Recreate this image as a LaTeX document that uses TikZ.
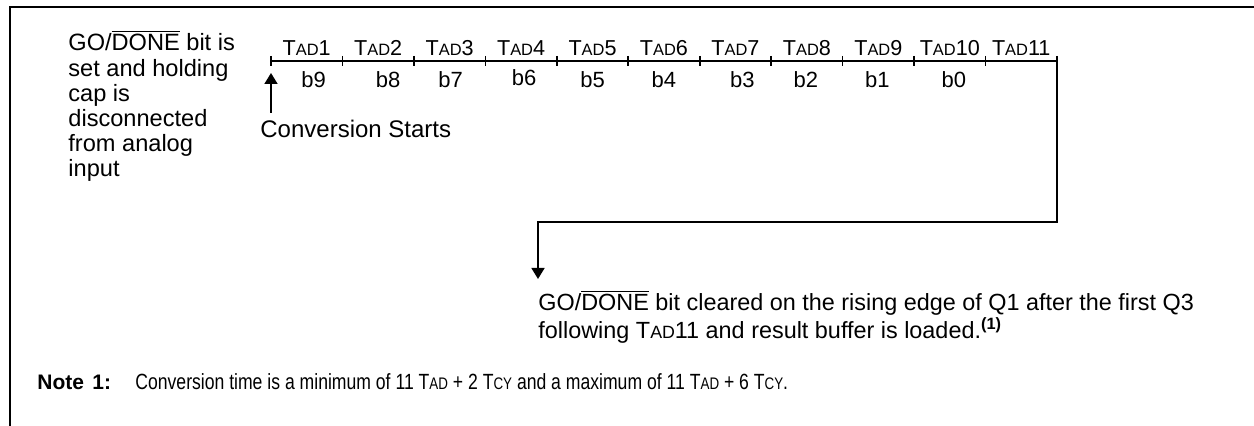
\documentclass[tikz,border=0pt]{standalone}
\usepackage{fontspec}
\setmainfont{Liberation Sans}
\newfontfamily\narrowfont{Liberation Sans}[FakeStretch=0.8]
\usetikzlibrary{positioning}
\usetikzlibrary{arrows.meta}
\newcommand{\ovl}[1]{$\overline{\mbox{#1}}$}
\newcommand{\sml}[1]{{\fontsize{0.76\fontdimen6\font}{1em}\selectfont #1}}
\tikzset{x=0.5pt, y=-0.5pt,
frame/.style={line width=1pt},
axis/.style={line width=0.8pt},
tickmark/.style={line width=0.8pt},
tlabel/.style={anchor=base, inner sep=0pt, font=\fontsize{10.8}{12}\selectfont},
blabel/.style={anchor=base, inner sep=0pt, font=\fontsize{11}{12}\selectfont},
note/.style={anchor=north west, inner sep=0pt, align=left, font=\fontsize{11.8}{12.6}\selectfont},
flow/.style={line width=0.8pt, -{Triangle[length=5.5pt,width=6.5pt]}}
}
\begin{document}
\begin{tikzpicture}
\useasboundingbox (0,0) rectangle (1254,426);
% frame
\draw[frame] (10,426) -- (10,7) -- (1254,7);
% left note
\node[note] (setnote) at (68,30) {GO/\ovl{DONE} bit is\\set and holding\\cap is\\disconnected\\from analog\\input};
% time line
\foreach \i in {0,...,11} \coordinate (t\i) at ({271+71.45*\i},61);
\draw[axis] (t0) -- (t11);
\foreach \i in {0,...,11} \draw[tickmark] ([yshift=2.5pt]t\i) -- ([yshift=-2.5pt]t\i);
\foreach \n in {1,...,11}
  \node[tlabel] (tad\n) at ({271+71.45*(\n-0.5)},56) {T\sml{AD}\n};
\foreach \n/\b/\dx/\dy in {1/9/7/0, 2/8/10/0, 3/7/1/0, 4/6/3/-2, 5/5/0/0, 6/4/0/0, 7/3/7/0, 8/2/-1/0, 9/1/-1/0, 10/0/4/0}
  \node[blabel] (b\b) at ({271+71.45*(\n-0.5)+\dx},{88+\dy}) {b\b};
% start of conversion
\coordinate (start) at (271,113);
\draw[flow] (start) -- ([yshift=-6pt]t0);
\node[anchor=base west, inner sep=0pt, font=\fontsize{12}{14}\selectfont] (convstart) at (260,138) {Conversion Starts};
% end of conversion
\node[anchor=north west, inner sep=0pt, align=left, font=\fontsize{11.7}{11}\selectfont] (cleared) at (538,290)
  {GO/\ovl{DONE} bit cleared on the rising edge of Q1 after the first Q3\\following T\sml{AD}11 and result buffer is loaded.\textsuperscript{\bfseries(1)}};
\coordinate (bend) at (538,222);
\coordinate[above=5.5pt of cleared.north west] (tip);
\draw[flow] (t11) |- (bend) -- (tip);
% note
\node[anchor=base west, inner sep=0pt, font=\bfseries\fontsize{10.5}{12}\selectfont] (notelbl) at (37,390) {Note\hspace{0.4em}1:};
\node[anchor=base west, inner sep=0pt, font=\narrowfont\fontsize{11}{12}\selectfont] (notetxt) at (135,390)
  {Conversion time is a minimum of 11 T\sml{AD} + 2 T\sml{CY} and a maximum of 11 T\sml{AD} + 6 T\sml{CY}.};
\end{tikzpicture}
\end{document}
